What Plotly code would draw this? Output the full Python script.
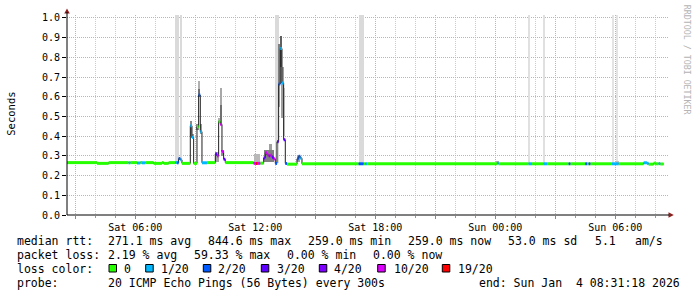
import pandas as pd
import plotly.graph_objects as go

# ---------------- data ----------------
loss_labels = ["0", "1/20", "2/20", "3/20", "4/20", "10/20", "19/20"]
loss_colors = ["#26ff00", "#00b8ff", "#0059ff", "#5e00ff", "#7e00ff", "#dd00ff", "#ff0000"]

# median rtt step series (each value holds until the next time)
median_time = [
    "2026-01-03 02:35", "2026-01-03 04:05", "2026-01-03 04:40", "2026-01-03 05:40",
    "2026-01-03 05:45", "2026-01-03 06:05", "2026-01-03 06:15", "2026-01-03 06:20",
    "2026-01-03 06:30", "2026-01-03 06:55", "2026-01-03 07:20", "2026-01-03 07:25",
    "2026-01-03 07:40", "2026-01-03 08:00", "2026-01-03 08:05", "2026-01-03 08:10",
    "2026-01-03 08:15", "2026-01-03 08:20", "2026-01-03 08:45", "2026-01-03 08:50",
    "2026-01-03 08:55", "2026-01-03 09:05", "2026-01-03 09:10", "2026-01-03 09:15",
    "2026-01-03 09:20", "2026-01-03 09:35", "2026-01-03 10:00", "2026-01-03 10:05",
    "2026-01-03 10:10", "2026-01-03 10:15", "2026-01-03 10:20", "2026-01-03 10:25",
    "2026-01-03 10:30", "2026-01-03 11:55", "2026-01-03 12:00", "2026-01-03 12:05",
    "2026-01-03 12:15", "2026-01-03 12:25", "2026-01-03 12:30", "2026-01-03 12:35",
    "2026-01-03 12:40", "2026-01-03 12:45", "2026-01-03 12:50", "2026-01-03 12:55",
    "2026-01-03 13:00", "2026-01-03 13:05", "2026-01-03 13:10", "2026-01-03 13:15",
    "2026-01-03 13:20", "2026-01-03 13:25", "2026-01-03 13:30", "2026-01-03 13:35",
    "2026-01-03 14:05", "2026-01-03 14:10", "2026-01-03 14:15", "2026-01-03 14:20",
    "2026-01-03 15:00", "2026-01-03 17:10", "2026-01-03 17:25", "2026-01-03 17:30",
    "2026-01-03 17:35", "2026-01-04 00:05", "2026-01-04 00:10", "2026-01-04 01:40",
    "2026-01-04 01:50", "2026-01-04 02:25", "2026-01-04 02:35", "2026-01-04 03:40",
    "2026-01-04 03:45", "2026-01-04 04:30", "2026-01-04 04:35", "2026-01-04 04:40",
    "2026-01-04 04:45", "2026-01-04 05:50", "2026-01-04 06:10", "2026-01-04 07:25",
    "2026-01-04 07:35", "2026-01-04 07:40", "2026-01-04 07:55", "2026-01-04 08:00",
    "2026-01-04 08:10", "2026-01-04 08:15",
]
median_sec = [
    0.266, 0.262, 0.266, 0.265,
    0.266, 0.264, 0.266, 0.265,
    0.266, 0.262, 0.266, 0.262,
    0.266, 0.266, 0.265, 0.287,
    0.280, 0.262, 0.453, 0.394,
    0.262, 0.448, 0.609, 0.423,
    0.265, 0.266, 0.310, 0.300,
    0.474, 0.460, 0.322, 0.283,
    0.266, 0.262, 0.262, 0.262,
    0.263, 0.290, 0.316, 0.305,
    0.300, 0.303, 0.293, 0.285,
    0.262, 0.372, 0.665, 0.845,
    0.670, 0.382, 0.262, 0.258,
    0.285, 0.298, 0.288, 0.260,
    0.260, 0.260, 0.260, 0.260,
    0.260, 0.263, 0.260, 0.260,
    0.260, 0.260, 0.260, 0.260,
    0.260, 0.260, 0.260, 0.260,
    0.260, 0.260, 0.260, 0.265,
    0.262, 0.258, 0.263, 0.260,
    0.261, 0.259,
]
median_loss = [
    0, 0, 0, 1,
    0, 1, 0, 1,
    0, 0, 0, 0,
    0, 1, 2, 2,
    1, 0, 1, 1,
    0, 0, 2, 1,
    1, 0, 3, 5,
    0, 5, 5, 3,
    0, 5, 6, 5,
    0, 3, 5, 5,
    4, 5, 3, 5,
    2, 3, 2, 1,
    1, 3, 2, 0,
    2, 2, 1, 0,
    0, 2, 0, 1,
    0, 1, 0, 1,
    0, 1, 0, 2,
    0, 2, 0, 2,
    0, 1, 0, 1,
    1, 0, 0, 0,
    1, 0,
]
median_end = "2026-01-04 08:25"

# smoke (ping spread) blocks
smoke_start = [
    "2026-01-03 08:00", "2026-01-03 08:15", "2026-01-03 13:00", "2026-01-03 17:10",
    "2026-01-04 01:40", "2026-01-04 02:25", "2026-01-04 05:53", "2026-01-04 06:05",
    "2026-01-03 08:45", "2026-01-03 08:50", "2026-01-03 09:05", "2026-01-03 09:10",
    "2026-01-03 09:10", "2026-01-03 09:15", "2026-01-03 10:00", "2026-01-03 10:10",
    "2026-01-03 10:15", "2026-01-03 10:15", "2026-01-03 10:20", "2026-01-03 11:55",
    "2026-01-03 12:25", "2026-01-03 12:40", "2026-01-03 13:10", "2026-01-03 13:10",
    "2026-01-03 13:15", "2026-01-03 13:20", "2026-01-03 13:25", "2026-01-03 14:05",
    "2026-01-04 00:05", "2026-01-04 06:05",
]
smoke_end = [
    "2026-01-03 08:10", "2026-01-03 08:20", "2026-01-03 13:10", "2026-01-03 17:25",
    "2026-01-04 01:45", "2026-01-04 02:30", "2026-01-04 05:57", "2026-01-04 06:09",
    "2026-01-03 08:50", "2026-01-03 08:55", "2026-01-03 09:10", "2026-01-03 09:15",
    "2026-01-03 09:15", "2026-01-03 09:20", "2026-01-03 10:10", "2026-01-03 10:15",
    "2026-01-03 10:20", "2026-01-03 10:20", "2026-01-03 10:25", "2026-01-03 12:15",
    "2026-01-03 12:55", "2026-01-03 12:50", "2026-01-03 13:15", "2026-01-03 13:15",
    "2026-01-03 13:20", "2026-01-03 13:25", "2026-01-03 13:30", "2026-01-03 14:15",
    "2026-01-04 00:10", "2026-01-04 06:10",
]
smoke_low = [
    0.268, 0.290, 0.264, 0.262,
    0.262, 0.262, 0.262, 0.262,
    0.400, 0.390, 0.430, 0.600,
    0.640, 0.410, 0.270, 0.470,
    0.460, 0.560, 0.300, 0.262,
    0.270, 0.330, 0.550, 0.660,
    0.750, 0.490, 0.400, 0.270,
    0.262, 0.262,
]
smoke_high = [
    1.100, 1.100, 1.100, 1.100,
    1.100, 1.100, 1.100, 1.100,
    0.475, 0.410, 0.460, 0.640,
    0.680, 0.460, 0.320, 0.490,
    0.560, 0.645, 0.330, 0.310,
    0.330, 0.360, 0.660, 0.870,
    0.910, 0.750, 0.645, 0.305,
    0.272, 0.272,
]
smoke_shade = [
    "#dadada", "#dadada", "#dadada", "#dadada",
    "#e0e0e0", "#e0e0e0", "#e4e4e4", "#e4e4e4",
    "#8a8a8a", "#9a9a9a", "#8a8a8a", "#707070",
    "#b0b0b0", "#9a9a9a", "#a0a0a0", "#b0b0b0",
    "#707070", "#a8a8a8", "#909090", "#b8b8b8",
    "#808080", "#a0a0a0", "#a8a8a8", "#808080",
    "#606060", "#a0a0a0", "#c8c8c8", "#a0a0a0",
    "#b0b0b0", "#c0c0c0",
]

tick_time = ["2026-01-03 03:00", "2026-01-03 06:00", "2026-01-03 09:00", "2026-01-03 12:00",
             "2026-01-03 15:00", "2026-01-03 18:00", "2026-01-03 21:00", "2026-01-04 00:00",
             "2026-01-04 03:00", "2026-01-04 06:00"]
tick_text = ["", "Sat 06:00", "", "Sat 12:00", "", "Sat 18:00", "", "Sun 00:00", "", "Sun 06:00"]

x_start, x_end = "2026-01-03 02:35:06", "2026-01-04 08:38:06"
y_max = 1.0152

rtt_label = "median rtt:"
rtt_stats = ["271.1 ms avg", "844.6 ms max", "259.0 ms min", "259.0 ms now", "53.0 ms sd", "5.1", "am/s"]
loss_label = "packet loss:"
loss_stats = ["2.19 % avg", "59.33 % max", "0.00 % min", "0.00 % now"]
color_label = "loss color:"
probe_label = "probe:"
probe_text = "20 ICMP Echo Pings (56 Bytes) every 300s"
end_text = "end: Sun Jan  4 08:31:18 2026"
y_title = "Seconds"
watermark = "RRDTOOL / TOBI OETIKER"

# ---------------- layout helpers (pixel -> paper) ----------------
W, H = 697, 297
L, R, T, B = 67, 29, 15, 82
PW, PH = W - L - R, H - T - B


def px(x):
    return (x - L) / PW


def py(y):
    return (H - B - y) / PH


MONO = "DejaVu Sans Mono"

fig = go.Figure()

# smoke bars
s0 = pd.to_datetime(smoke_start)
s1 = pd.to_datetime(smoke_end)
fig.add_trace(go.Bar(
    x=s0 + (s1 - s0) / 2,
    y=[h - l for h, l in zip(smoke_high, smoke_low)],
    base=smoke_low,
    width=[(b - a).total_seconds() * 1000 for a, b in zip(s0, s1)],
    marker=dict(color=smoke_shade, line=dict(width=0)),
    hoverinfo="skip",
))

# dark median line
mt = list(pd.to_datetime(median_time)) + [pd.to_datetime(median_end)]
mv = median_sec + [median_sec[-1]]
fig.add_trace(go.Scatter(x=mt, y=mv, mode="lines", line=dict(color="#202020", width=1, shape="hv"),
                         hoverinfo="skip"))

# loss-coloured median segments
for lvl, col in enumerate(loss_colors):
    xs, ys = [], []
    for i, lo in enumerate(median_loss):
        if lo == lvl:
            xs += [mt[i], mt[i + 1], None]
            ys += [median_sec[i], median_sec[i], None]
    if xs:
        fig.add_trace(go.Scatter(x=xs, y=ys, mode="lines", line=dict(color=col, width=3),
                                 connectgaps=False, hoverinfo="skip"))

annotations = []


def txt(x, y, s, size=11.5, color="#000000", anchor="left", angle=0):
    annotations.append(dict(x=px(x), y=py(y), xref="paper", yref="paper", text=s, showarrow=False,
                            xanchor=anchor, yanchor="middle", borderpad=0, textangle=angle,
                            font=dict(family=MONO, size=size, color=color)))


row_y = [241.3, 255.3, 269.3, 283.3]
txt(16, row_y[0], rtt_label)
for s, x in zip(rtt_stats, [107, 207, 307, 407, 507, 593.5, 634]):
    txt(x, row_y[0], s)
txt(16, row_y[1], loss_label)
for s, x in zip(loss_stats, [107, 193, 286, 372]):
    txt(x, row_y[1], s)
txt(16, row_y[2], color_label)
sq_x = [109, 145.7, 203.3, 261.3, 319.3, 377.7, 442.3]
lab_x = [122.5, 160, 217, 275.5, 333, 392.5, 457]
shapes = []
for sx, lx, col, lab in zip(sq_x, lab_x, loss_colors, loss_labels):
    shapes.append(dict(type="rect", xref="paper", yref="paper", x0=px(sx), x1=px(sx + 7.5),
                       y0=py(272), y1=py(264.5), fillcolor=col, line=dict(color="#000000", width=1)))
    txt(lx, row_y[2], lab)
txt(16, row_y[3], probe_label)
txt(107, row_y[3], probe_text)
txt(477.5, row_y[3], end_text)

txt(10.7, 114, y_title, size=10.5, anchor="center", angle=-90)
txt(687.3, 60, watermark, size=8.3, color="#b4b4b4", anchor="center", angle=90)

# axis arrows (dark red triangles)
shapes.append(dict(type="path", xref="paper", yref="paper",
                   path=f"M {px(64.2)} {py(13.5)} L {px(67)} {py(8.5)} L {px(69.8)} {py(13.5)} Z",
                   fillcolor="#8b2020", line=dict(width=0)))
shapes.append(dict(type="path", xref="paper", yref="paper",
                   path=f"M {px(668.5)} {py(212.2)} L {px(673.8)} {py(215)} L {px(668.5)} {py(217.8)} Z",
                   fillcolor="#8b2020", line=dict(width=0)))
shapes.append(dict(type="line", xref="paper", yref="paper", x0=px(67), x1=px(67), y0=py(215), y1=py(12),
                   line=dict(color="#000000", width=1)))
shapes.append(dict(type="line", xref="paper", yref="paper", x0=px(67), x1=px(669), y0=py(215), y1=py(215),
                   line=dict(color="#000000", width=1)))

fig.update_layout(
    width=W, height=H, margin=dict(l=L, r=R, t=T, b=B),
    paper_bgcolor="#ffffff", plot_bgcolor="#ffffff",
    showlegend=False, barmode="overlay", bargap=0,
    annotations=annotations, shapes=shapes,
    xaxis=dict(
        type="date", range=[x_start, x_end],
        tickmode="array", tickvals=tick_time, ticktext=tick_text,
        showgrid=True, gridcolor="#e5a3a3", griddash="1px,1px", gridwidth=1,
        ticks="outside", ticklen=3, tickcolor="#888888",
        minor=dict(dtick=3600000, showgrid=True, gridcolor="#cccccc", griddash="1px,1px",
                   ticks="outside", ticklen=2, tickcolor="#999999"),
        showline=False, zeroline=False,
        tickfont=dict(family=MONO, size=10, color="#000000"),
    ),
    yaxis=dict(
        range=[0, y_max], tick0=0, dtick=0.1, tickformat=".1f",
        showgrid=True, gridcolor="#e5a3a3", griddash="1px,1px", gridwidth=1,
        ticks="outside", ticklen=4, tickcolor="#000000",
        showline=False, zeroline=False,
        tickfont=dict(family=MONO, size=10, color="#000000"),
    ),
)

fig.write_html("out.html")
